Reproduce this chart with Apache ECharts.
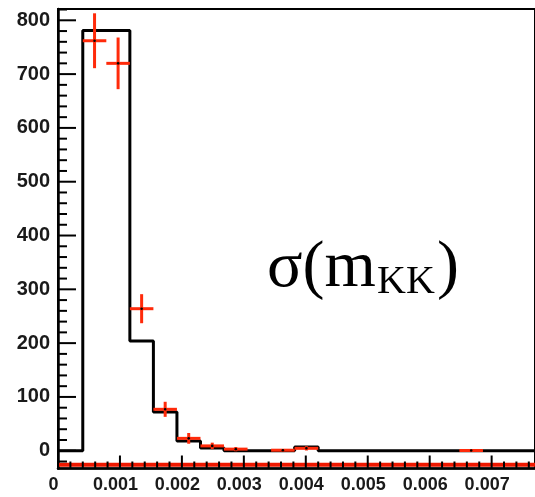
<!DOCTYPE html>
<html>
<head>
<meta charset="utf-8">
<script src="https://cdn.jsdelivr.net/npm/echarts@6/dist/echarts.min.js"></script>
<style>
  html, body { margin: 0; padding: 0; background: #fff; }
  #main { width: 535px; height: 497px; }
</style>
</head>
<body>
<div id="main"></div>
<script>
// histogram bin edges (x) and black histogram contents
var binEdges = [0, 0.0004, 0.00078, 0.00116, 0.00154, 0.00192, 0.0023, 0.00268, 0.00306,
  0.00344, 0.00382, 0.0042, 0.0077];
var histCounts = [0, 781, 781, 204, 72, 18, 5, 0, 0, 0, 7, 0];

// red data points: bin low, bin high, value, error
var pointLow = [0.0004, 0.00078, 0.00116, 0.00154, 0.00192, 0.0023, 0.00268, 0.00344, 0.00382, 0.00648];
var pointHigh = [0.00078, 0.00116, 0.00154, 0.00192, 0.0023, 0.00268, 0.00306, 0.00382, 0.0042, 0.00686];
var pointVal = [762, 720, 264, 77, 23, 9, 3, 1, 4.5, 0.5];
var pointErr = [51, 48, 27, 14, 10, 6, 4, 2, 4, 1];

// red band along the bottom of the frame
var floorLevel = -26;

// axis ticks
var xMajorTicks = [0, 0.001, 0.002, 0.003, 0.004, 0.005, 0.006, 0.007];
var xMinorTicks = [0.0002, 0.0004, 0.0006, 0.0008, 0.0012, 0.0014, 0.0016, 0.0018,
  0.0022, 0.0024, 0.0026, 0.0028, 0.0032, 0.0034, 0.0036, 0.0038,
  0.0042, 0.0044, 0.0046, 0.0048, 0.0052, 0.0054, 0.0056, 0.0058,
  0.0062, 0.0064, 0.0066, 0.0068, 0.0072, 0.0074, 0.0076];
var yMajorTicks = [0, 100, 200, 300, 400, 500, 600, 700, 800];
var yMinorTicks = [-20, 20, 40, 60, 80, 120, 140, 160, 180, 220, 240, 260, 280,
  320, 340, 360, 380, 420, 440, 460, 480, 520, 540, 560, 580,
  620, 640, 660, 680, 720, 740, 760, 780, 820];

var xMin = 0, xMax = 0.0077;
var yMin = -33, yMax = 821;

// step line points for the histogram
var histLine = [];
for (var i = 0; i < histCounts.length; i++) {
  histLine.push([binEdges[i], histCounts[i]]);
}
histLine.push([binEdges[binEdges.length - 1], histCounts[histCounts.length - 1]]);

var points = [];
for (var j = 0; j < pointVal.length; j++) {
  points.push([pointLow[j], pointHigh[j], pointVal[j], pointErr[j]]);
}

var labelFont = {
  fontFamily: 'Liberation Sans, Arial, sans-serif',
  fontWeight: 'bold',
  color: '#1a1a1a'
};

// tick marks drawn inward from the axes, positions from the axis scales
function tickSeries(values, isX, len) {
  return {
    type: 'custom',
    data: values.map(function (v) { return isX ? [v, yMin] : [xMin, v]; }),
    encode: { x: 0, y: 1 },
    clip: false,
    silent: true,
    z: 5,
    renderItem: function (params, api) {
      var p = api.coord([api.value(0), api.value(1)]);
      var shape = isX
        ? { x1: p[0], y1: p[1], x2: p[0], y2: p[1] - len }
        : { x1: p[0], y1: p[1], x2: p[0] + len, y2: p[1] };
      return { type: 'line', shape: shape, style: { stroke: '#000', lineWidth: 2 } };
    }
  };
}

var chart = echarts.init(document.getElementById('main'));
chart.setOption({
  animation: false,
  grid: {
    left: 58, top: 9, width: 486.6, height: 459.5,
    show: true, borderColor: '#000', borderWidth: 2, backgroundColor: 'transparent'
  },
  xAxis: {
    type: 'value', min: xMin, max: xMax, position: 'bottom',
    axisLine: { show: true, onZero: false, lineStyle: { color: '#000', width: 2.5 } },
    axisTick: { show: false },
    axisLabel: Object.assign({
      customValues: xMajorTicks, fontSize: 18, margin: 8, padding: [0, 9, 0, 0],
      formatter: function (v) { return v === 0 ? '0' : v.toFixed(3); }
    }, labelFont),
    splitLine: { show: false }
  },
  yAxis: {
    type: 'value', min: yMin, max: yMax, position: 'left',
    axisLine: { show: true, onZero: false, lineStyle: { color: '#000', width: 2.5 } },
    axisTick: { show: false },
    axisLabel: Object.assign({ customValues: yMajorTicks, fontSize: 20, margin: 8 }, labelFont),
    splitLine: { show: false }
  },
  series: [
    {
      type: 'line',
      data: [[xMin, floorLevel], [xMax, floorLevel]],
      symbol: 'none',
      lineStyle: { color: '#ee1800', width: 4 },
      z: 1
    },
    {
      type: 'line',
      step: 'end',
      data: histLine,
      symbol: 'none',
      lineStyle: { color: '#000', width: 3 },
      z: 2
    },
    {
      type: 'custom',
      data: points,
      encode: { x: [0, 1], y: [2] },
      z: 3,
      renderItem: function (params, api) {
        var lo = api.value(0), hi = api.value(1), v = api.value(2), e = api.value(3);
        var c = (lo + hi) / 2;
        var pL = api.coord([lo, v]), pR = api.coord([hi, v]);
        var pT = api.coord([c, v + e]), pB = api.coord([c, v - e]);
        var pC = api.coord([c, v]);
        return {
          type: 'group',
          children: [
            { type: 'line', shape: { x1: pL[0], y1: pL[1], x2: pR[0], y2: pR[1] },
              style: { stroke: '#ff2a0a', lineWidth: 3 } },
            { type: 'line', shape: { x1: pT[0], y1: pT[1], x2: pB[0], y2: pB[1] },
              style: { stroke: '#ff2a0a', lineWidth: 3 } },
            { type: 'circle', shape: { cx: pC[0], cy: pC[1], r: 1.3 },
              style: { fill: '#000' } }
          ]
        };
      }
    },
    tickSeries(xMajorTicks, true, 13),
    tickSeries(xMinorTicks, true, 7),
    tickSeries(yMajorTicks, false, 18),
    tickSeries(yMinorTicks, false, 9)
  ],
  graphic: [
    { type: 'text', left: 267, top: 236,
      style: { text: 'σ(m', font: '66px "Liberation Serif", "Times New Roman", serif', fill: '#000' } },
    { type: 'text', left: 377, top: 262,
      style: { text: 'KK', font: '40px "Liberation Serif", "Times New Roman", serif', fill: '#000' } },
    { type: 'text', left: 437, top: 236,
      style: { text: ')', font: '66px "Liberation Serif", "Times New Roman", serif', fill: '#000' } }
  ]
});
</script>
</body>
</html>
